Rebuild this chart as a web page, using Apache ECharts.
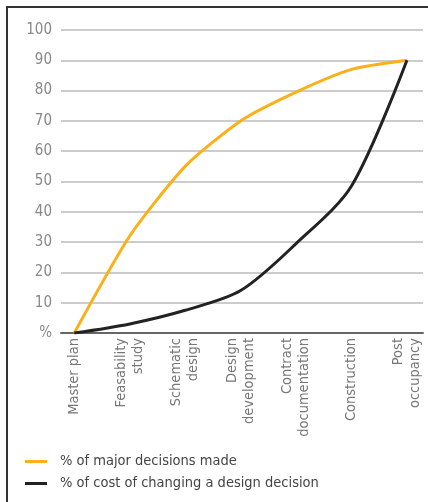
<!DOCTYPE html>
<html><head><meta charset="utf-8">
<script src="https://cdn.jsdelivr.net/npm/echarts@6/dist/echarts.min.js"></script>
<style>
html,body{margin:0;padding:0;background:#fff;overflow:hidden;width:428px;height:502px;}
#frame{position:absolute;left:6px;top:6px;width:460px;height:520px;border-left:2px solid #333;border-top:2px solid #333;}
#chart{position:absolute;left:0;top:0;width:428px;height:502px;}
</style></head>
<body>
<div id="frame"></div>
<div id="chart"></div>
<script>
var categories = ['Master plan','Feasability\nstudy','Schematic\ndesign','Design\ndevelopment','Contract\ndocumentation','Construction','Post\noccupancy'];
var decisionsMade = [0, 32, 55, 70, 79.5, 87, 90];
var costOfChange = [0, 3, 7.5, 14, 29.5, 48.5, 90];
var yTickLabels = ['%','10','20','30','40','50','60','70','80','90','100'];
var seriesNames = ['% of major decisions made','% of cost of changing a design decision'];

var FONT = '"Liberation Sans Narrow","DejaVu Sans Condensed","Roboto",sans-serif';
function pairs(arr){ return arr.map(function(v,i){ return [i, v]; }); }

var chart = echarts.init(document.getElementById('chart'), null, {renderer:'canvas'});
chart.setOption({
  animation:false,
  grid:{left:61, right:5, top:30, bottom:169},
  xAxis:{
    type:'value', min:-0.24, max:6.29,
    splitLine:{show:false},
    axisLine:{show:true, onZero:false, lineStyle:{color:'#666', width:2}},
    axisTick:{show:false},
    axisLabel:{
      customValues:[0,1,2,3,4,5,6],
      rotate:90, margin:5,
      color:'#777', fontSize:14.5, fontFamily:FONT, lineHeight:17,
      formatter:function(v){ return categories[Math.round(v)]; }
    }
  },
  yAxis:{
    type:'value', min:0, max:100, interval:10,
    axisLine:{show:false}, axisTick:{show:false},
    splitLine:{lineStyle:{color:'#bbb', width:1.5}},
    axisLabel:{margin:9, color:'#888', fontSize:15, fontFamily:FONT,
      formatter:function(v){ return yTickLabels[Math.round(v/10)]; }}
  },
  legend:{
    orient:'vertical', left:20, top:449, itemWidth:22, itemHeight:3, itemGap:7,
    icon:'rect',
    textStyle:{color:'#444', fontSize:14.5, fontFamily:FONT, padding:[0,0,0,8]},
    data:seriesNames
  },
  series:[
    {name:seriesNames[0], type:'line', data:pairs(decisionsMade), smooth:0.22, symbol:'none',
     lineStyle:{color:'#fbb017', width:3}, itemStyle:{color:'#fbb017'}},
    {name:seriesNames[1], type:'line', data:pairs(costOfChange), smooth:0.3, symbol:'none',
     lineStyle:{color:'#222', width:3}, itemStyle:{color:'#222'}}
  ]
});
</script>
</body></html>
